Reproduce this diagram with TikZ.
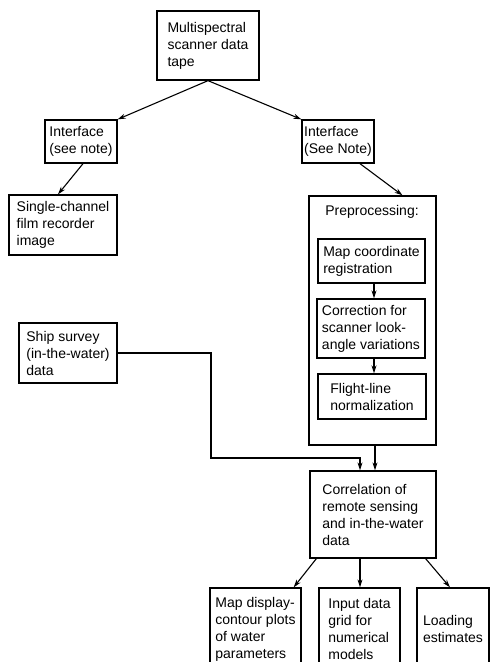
\documentclass[tikz,border=0pt]{standalone}
\usepackage{fontspec}
\setmainfont{Liberation Sans}
\usetikzlibrary{arrows.meta}

\begin{document}
\begin{tikzpicture}[x=1pt,y=-1pt,
  box/.style={shape=rectangle,draw=black,align=left,line width=1.3pt,inner sep=0pt,font=\fontsize{14}{17}\selectfont},
  link/.style={-{Stealth[length=8pt,width=5pt]},draw=black,line width=1.1pt}]
\useasboundingbox (0,0) rectangle (490,662);
\clip (0,0) rectangle (490,662);
\node[box,minimum width=102pt,minimum height=69pt] (0) at (208,45.5) {Multispectral\\scanner data\\tape};
\node[box,minimum width=72pt,minimum height=43pt] (1) at (81,141.5) {Interface\\(see note)};
\node[box,minimum width=72pt,minimum height=43pt] (2) at (338,141.5) {Interface\\(See Note)};
\node[box,minimum width=108pt,minimum height=60pt] (3) at (63,225) {Single-channel\\film recorder\\image};
\node[box,minimum width=127pt,minimum height=249pt] (4) at (372.5,320.5) {};
\node[font=\fontsize{14}{17}\selectfont,inner sep=0pt] (13) at (372,212) {Preprocessing:};
\node[box,minimum width=107pt,minimum height=44pt] (5) at (371.5,261) {Map coordinate\\registration};
\node[box,minimum width=108pt,minimum height=59pt] (6) at (371,328.5) {Correction for\\scanner look-\\angle variations};
\node[box,minimum width=108pt,minimum height=45pt] (7) at (372,396.5) {Flight-line\\normalization};
\node[box,minimum width=98pt,minimum height=60pt] (8) at (68,353) {Ship survey\\(in-the-water)\\data};
\node[box,minimum width=126pt,minimum height=87pt] (9) at (373,514.5) {Correlation of\\remote sensing\\and in-the-water\\data};
\node[box,minimum width=91pt,minimum height=82pt] (10) at (255.5,629) {Map display-\\contour plots\\of water\\parameters};
\node[box,minimum width=81pt,minimum height=82pt] (11) at (359.5,629) {Input data\\grid for\\numerical\\models};
\node[box,minimum width=72pt,minimum height=82pt] (12) at (453,629) {Loading\\estimates};
\coordinate (14) at (211,458);

\draw [link] (0.south) -- (1.north east);
\draw [link] (0.south) -- (2.north west);
\draw [link] ([xshift=2pt]1.south) -- ([xshift=-5pt]3.north);
\draw [link] ([xshift=22pt]2.south) -- ([xshift=30pt]4.north);
\draw [link] ([xshift=2.5pt]5.south) -- ([xshift=2.5pt]5.south |- 6.north);
\draw [link] ([xshift=3pt]6.south) -- ([xshift=3pt]6.south |- 7.north);
\draw [link] ([xshift=2.5pt]4.south) -- ([xshift=2.5pt]4.south |- 9.north);
\draw [link] (8.east) -| (14) -| ([xshift=-13pt]9.north);
\draw [link] ([xshift=7pt]9.south west) -- ([xshift=-8pt]10.north east);
\draw [link] ([xshift=-13pt]9.south) -- ([xshift=-13pt]9.south |- 11.north);
\draw [link] ([xshift=-11pt]9.south east) -- ([xshift=-3pt]12.north);
\end{tikzpicture}
\end{document}
